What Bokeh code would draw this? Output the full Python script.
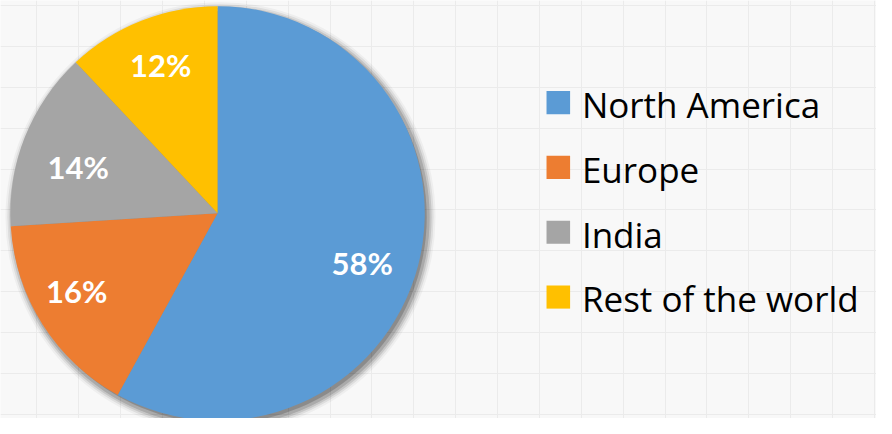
import numpy as np
from bokeh.plotting import figure
from bokeh.models import Range1d, FixedTicker, ColumnDataSource
from bokeh.core.properties import value
from bokeh.embed import file_html
from bokeh.resources import INLINE

# ---- data ----
regions = ["North America", "Europe", "India", "Rest of the world"]
shares = [58, 16, 14, 12]
colors = ["#5b9bd5", "#ed7d31", "#a5a5a5", "#ffc000"]

# ---- layout (reference pixel coordinates, y measured from top) ----
W, H = 892, 434
cx, cy_ref, R = 221, 221, 211
def Y(yref):
    return H - yref

p = figure(width=876, height=418, output_backend="svg", toolbar_location=None,
           x_range=Range1d(0, W), y_range=Range1d(0, H),
           min_border=0, background_fill_color="#f8f8f8", border_fill_color="#f8f8f8",
           outline_line_color=None)
p.axis.visible = False
p.xgrid.ticker = FixedTicker(ticks=[37 + 42.65 * k for k in range(21)])
p.ygrid.ticker = FixedTicker(ticks=[Y(5 + 42.5 * k) for k in range(11)])
p.grid.grid_line_color = "#ebebeb"
p.grid.grid_line_width = 1

# shadow
for dr, a in [(-1, 0.18), (2, 0.14), (4, 0.1), (6, 0.07), (8, 0.04)]:
    p.circle(x=[cx + 3], y=[Y(cy_ref + 4)], radius=R + dr, fill_color="black",
             fill_alpha=a, line_color=None)

# wedges: start at 12 o'clock, clockwise
fr = np.array(shares, dtype=float) / sum(shares)
cum = np.concatenate([[0], np.cumsum(fr)])
start = np.pi / 2 - cum[1:] * 2 * np.pi
end = np.pi / 2 - cum[:-1] * 2 * np.pi
src = ColumnDataSource(dict(start=start, end=end, color=colors))
p.wedge(x=cx, y=Y(cy_ref), radius=R, start_angle="start", end_angle="end",
        fill_color="color", line_color=None, source=src)

# percentage labels
mid = (start + end) / 2
rf = np.array([0.74, 0.78, 0.71, 0.78])
adj = np.radians([-5, -3, 3, -1])
lx = cx + rf * R * np.cos(mid + adj)
ly = Y(cy_ref) + rf * R * np.sin(mid + adj)
p.text(x=lx, y=ly, text=[f"{s}%" for s in shares], text_color="white",
       text_font=value("Lato"), text_font_style="bold", text_font_size="31px",
       text_align="center", text_baseline="middle")

# legend
ly0, step = 106, 67.3
ys = [ly0 + i * step for i in range(len(regions))]
p.rect(x=[568] * len(regions), y=[Y(v) for v in ys], width=24, height=24,
       fill_color=colors, line_color=None)
p.text(x=[592] * len(regions), y=[Y(v + 2) for v in ys], text=regions,
       text_color="black", text_font=value("Open Sans"), text_font_size="35px",
       text_align="left", text_baseline="middle")

open("out.html", "w").write(file_html(p, INLINE))
